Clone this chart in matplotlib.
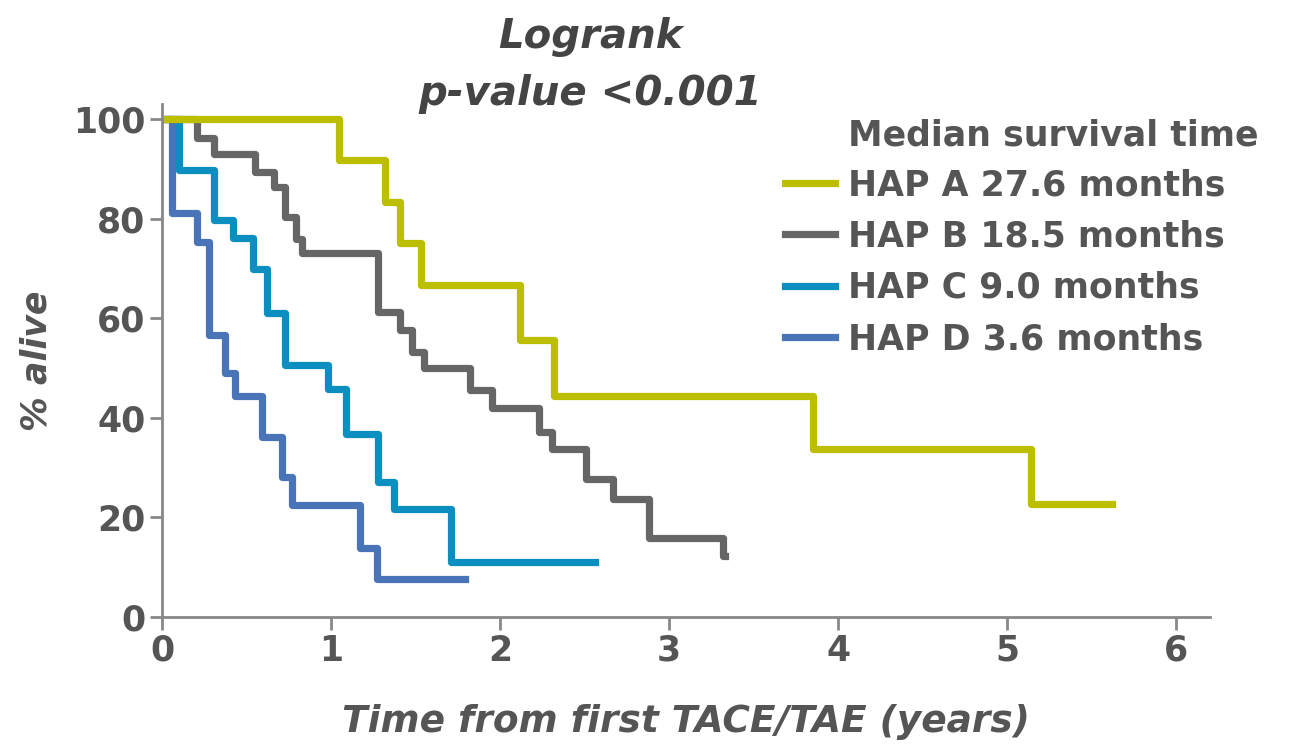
import matplotlib.pyplot as plt

# Kaplan-Meier step points (years, % alive)
hap_a_t = [0, 1.05, 1.32, 1.41, 1.53, 2.12, 2.32, 3.85, 5.14, 5.62]
hap_a_s = [100, 91.7, 83.3, 75.0, 66.7, 55.6, 44.4, 33.8, 22.6, 22.6]

hap_b_t = [0, 0.21, 0.31, 0.55, 0.66, 0.73, 0.79, 0.83, 1.28, 1.41, 1.48, 1.55,
           1.82, 1.95, 2.23, 2.31, 2.51, 2.67, 2.88, 3.32, 3.33]
hap_b_s = [100, 96.2, 93.0, 89.4, 86.3, 80.4, 75.9, 73.0, 61.3, 57.6, 53.3, 50.0,
           45.5, 41.9, 37.1, 33.8, 27.7, 23.7, 15.8, 12.2, 12.2]

hap_c_t = [0, 0.10, 0.31, 0.42, 0.54, 0.62, 0.73, 0.98, 1.09, 1.28, 1.37, 1.71, 2.56]
hap_c_s = [100, 89.8, 79.7, 76.0, 69.9, 61.0, 50.6, 45.7, 36.7, 27.1, 21.6, 11.0, 11.0]

hap_d_t = [0, 0.06, 0.21, 0.28, 0.37, 0.43, 0.59, 0.71, 0.77, 1.17, 1.27, 1.79]
hap_d_s = [100, 81.1, 75.2, 56.6, 49.0, 44.4, 36.1, 28.1, 22.4, 13.9, 7.7, 7.7]

labels = ['HAP A 27.6 months', 'HAP B 18.5 months', 'HAP C 9.0 months', 'HAP D 3.6 months']
colors = ['#BBBF00', '#666666', '#0A8FC0', '#4A74B8']

txt = '#555555'
axcol = '#888888'

fig = plt.figure(figsize=(12.97, 7.45), dpi=100)
ax = fig.add_axes([162 / 1297, 1 - 617 / 745, (1210 - 162) / 1297, (617 - 104) / 745])

curves = [(hap_a_t, hap_a_s), (hap_b_t, hap_b_s), (hap_c_t, hap_c_s), (hap_d_t, hap_d_s)]
# draw D first so A ends up on top at the 100% line
for (t, s), lab, c in reversed(list(zip(curves, labels, colors))):
    ax.step(t, s, where='post', color=c, lw=5.2, label=lab, solid_joinstyle='round')

ax.set_xlim(0, 6.2)
ax.set_ylim(0, 103)
ax.set_xticks(range(0, 7))
ax.set_yticks(range(0, 101, 20))

for side in ['top', 'right']:
    ax.spines[side].set_visible(False)
for side in ['left', 'bottom']:
    ax.spines[side].set_color(axcol)
    ax.spines[side].set_linewidth(2)
ax.tick_params(colors=axcol, width=2, length=9, labelcolor=txt, labelsize=25, pad=3)
for lbl in ax.get_xticklabels() + ax.get_yticklabels():
    lbl.set_fontweight('bold')

ax.set_xlabel('Time from first TACE/TAE (years)', fontsize=27, fontweight='bold',
              fontstyle='italic', color=txt, labelpad=26)
ax.set_ylabel('% alive', fontsize=25, fontweight='bold', fontstyle='italic',
              color=txt, labelpad=14)

fig.text(0.455, 0.950, 'Logrank', ha='center', va='center', fontsize=29,
         fontweight='bold', fontstyle='italic', color='#444444')
fig.text(0.455, 0.874, 'p-value <0.001', ha='center', va='center', fontsize=29,
         fontweight='bold', fontstyle='italic', color='#444444')

fig.text(848 / 1297, 1 - 135 / 745, 'Median survival time', ha='left', va='center',
         fontsize=25, fontweight='bold', color=txt)

handles, labs = ax.get_legend_handles_labels()
leg = fig.legend(handles[::-1], labs[::-1], loc='upper left',
                 bbox_to_anchor=(785 / 1297, 1 - 168 / 745), frameon=False,
                 fontsize=25, handlelength=1.45, handletextpad=0.37,
                 labelspacing=0.5, borderpad=0, borderaxespad=0)
for t in leg.get_texts():
    t.set_color(txt)
    t.set_fontweight('bold')

fig.savefig('out.png', dpi=100)
